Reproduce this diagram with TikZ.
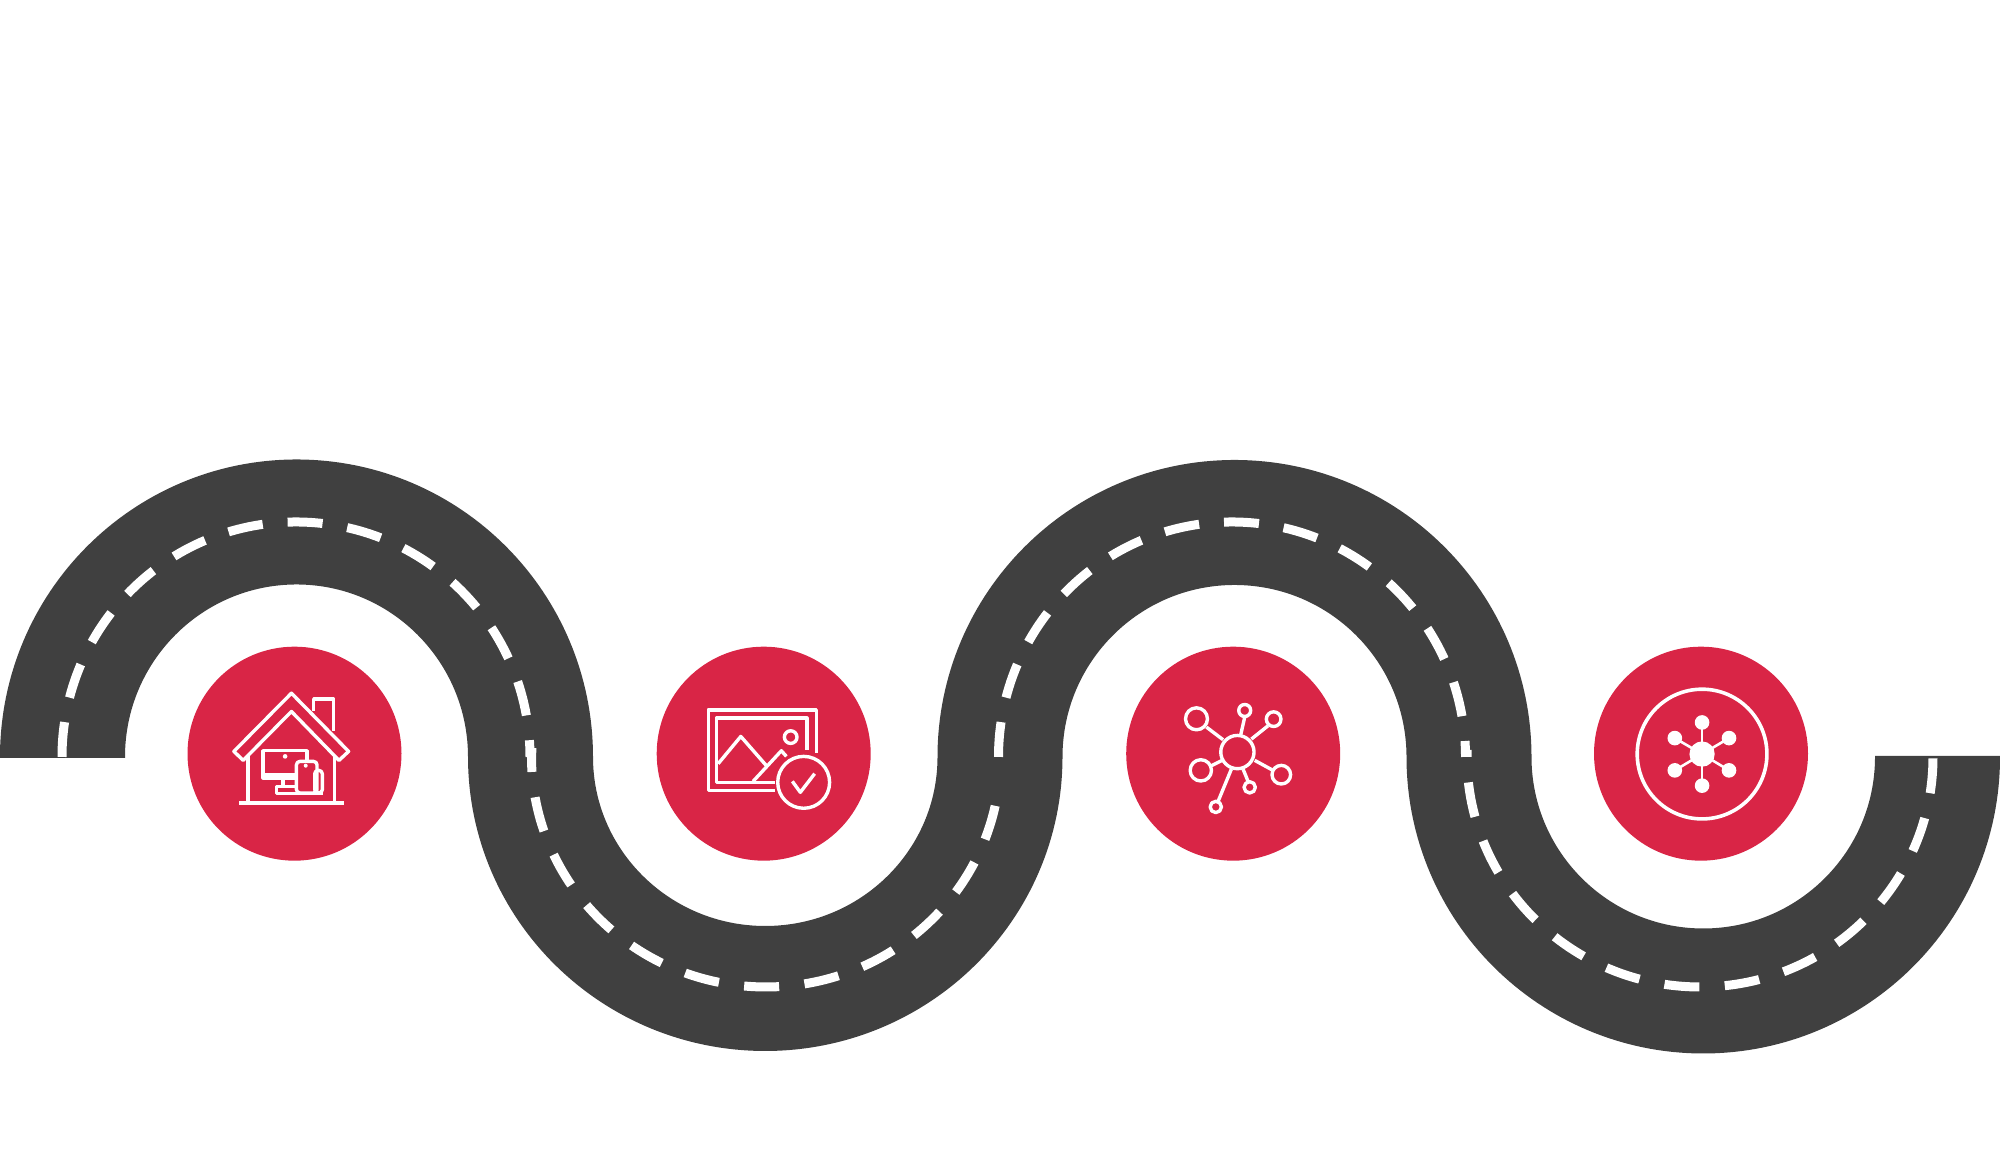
\documentclass[tikz,border=0pt]{standalone}
\definecolor{roadgray}{RGB}{64, 64, 64}
\definecolor{stopred}{RGB}{217, 37, 70}
\usepackage{tikz}
\tikzset{
  road/.style={draw=roadgray, line width=1.25cm},
  lanemark/.style={draw=white, line width=0.09cm, dash pattern=on 0.35cm off 0.25cm},
  lanemarkwide/.style={draw=white, line width=0.09cm, dash pattern=on 0.35cm off 0.255cm},
  stopdisc/.style={circle, fill=stopred, minimum size=2.14cm, inner sep=0pt},
  iconline/.style={draw=white, line width=0.034cm, line join=round},
  iconfill/.style={fill=white}
}

\begin{document}
\begin{tikzpicture}
  \useasboundingbox (0,0) rectangle (20,11.5);

  % road
  \draw[road] (0.625,3.92) -- (0.625,3.93)
    arc[start angle=180, end angle=0, x radius=2.34, y radius=2.35]
    arc[start angle=180, end angle=360, x radius=2.3475, y radius=2.315]
    arc[start angle=180, end angle=0, x radius=2.345, y radius=2.345]
    arc[start angle=180, end angle=360, x radius=2.3425, y radius=2.34]
    -- ++(0,0.01);

  % lane marks
  \draw[lanemark] (0.62,3.93) arc[start angle=180, end angle=0, x radius=2.34, y radius=2.35];
  \draw[lanemarkwide, dash phase=0.11cm] (5.32,4.02) -- (5.315,3.93)
    arc[start angle=180, end angle=353, x radius=2.345, y radius=2.30];
  \draw[lanemark] (9.985,3.93) arc[start angle=180, end angle=0, x radius=2.335, y radius=2.35];
  \draw[lanemarkwide, dash phase=0.28cm] (14.67,4.00) -- (14.67,3.93)
    arc[start angle=180, end angle=360, x radius=2.33, y radius=2.30];

  % stops
  \node[stopdisc] (homestop) at (2.945,3.963) {};
  \node[stopdisc] (imagestop) at (7.637,3.963) {};
  \node[stopdisc] (hubstop) at (12.332,3.963) {};
  \node[stopdisc] (meshstop) at (17.01,3.963) {};

  % house with devices
  \begin{scope}[shift={(1.80,5.10)}, x=0.003333cm, y=-0.003333cm]
    \draw[iconline] (335,160) -- (507,335) -- (478,362) -- (335,215) -- (190,362) -- (162,335) -- cycle;
    \draw[iconline] (402,215) -- (402,178) -- (462,178) -- (462,275);
    \draw[iconline] (205,350) -- (205,490);
    \draw[iconline] (465,350) -- (465,490);
    \draw[iconline] (178,490) -- (492,490);
    \draw[iconline] (345,415) -- (250,415) -- (250,333) -- (382,333) -- (382,362);
    \draw[iconline] (250,405) -- (345,405);
    \draw[iconline] (310,415) -- (310,440);
    \draw[iconline] (345,440) -- (290,440) -- (290,462) -- (430,462);
    \draw[iconline, rounded corners=1pt] (350,365) rectangle (412,460);
    \draw[iconline, rounded corners=1pt] (405,392) rectangle (428,460);
    \fill[iconfill] (316,350) circle[radius=7];
    \fill[iconfill] (378,378) circle[radius=6];
  \end{scope}

  % framed picture with check mark
  \begin{scope}[shift={(6.50,5.10)}, x=0.003333cm, y=-0.003333cm]
    \draw[iconline] (500,340) -- (500,210) -- (175,210) -- (175,452) -- (375,452);
    \draw[iconline] (472,330) -- (472,235) -- (200,235) -- (200,428) -- (375,428);
    \draw[iconline] (205,372) -- (273,290) -- (350,378);
    \draw[iconline] (310,425) -- (395,333) -- (410,350);
    \draw[iconline] (423,292) circle[radius=19];
    \draw[iconline] (462,428) circle[radius=78];
    \draw[iconline] (428,425) -- (452,458) -- (495,402);
  \end{scope}

  % hub with linked circles
  \begin{scope}[shift={(11.15,5.10)}, x=0.003333cm, y=-0.003333cm]
    \draw[iconline] (368,337) circle[radius=50];
    \foreach \nx/\ny/\nr/\ax/\ay/\bx/\by in {
      245/237/33/275/262/325/300,
      390/212/18/390/232/378/285,
      477/238/22/460/258/410/298,
      258/392/32/290/378/322/362,
      500/405/28/475/392/420/362,
      405/443/17/400/425/385/388,
      303/502/17/310/485/350/388} {
      \draw[iconline] (\nx,\ny) circle[radius=\nr];
      \draw[iconline] (\ax,\ay) -- (\bx,\by);
    }
  \end{scope}

  % mesh in a ring
  \begin{scope}[shift={(15.80,5.10)}, x=0.003333cm, y=-0.003333cm]
    \draw[iconline, line width=0.036cm] (367,343) circle[radius=195];
    \foreach \nx/\ny in {367/248, 367/438, 285/295, 448/295, 285/392, 448/392} {
      \draw[iconline, line width=0.026cm] (367,343) -- (\nx,\ny);
      \fill[iconfill] (\nx,\ny) circle[radius=22];
    }
    \fill[iconfill] (367,343) circle[radius=38];
  \end{scope}
\end{tikzpicture}
\end{document}
